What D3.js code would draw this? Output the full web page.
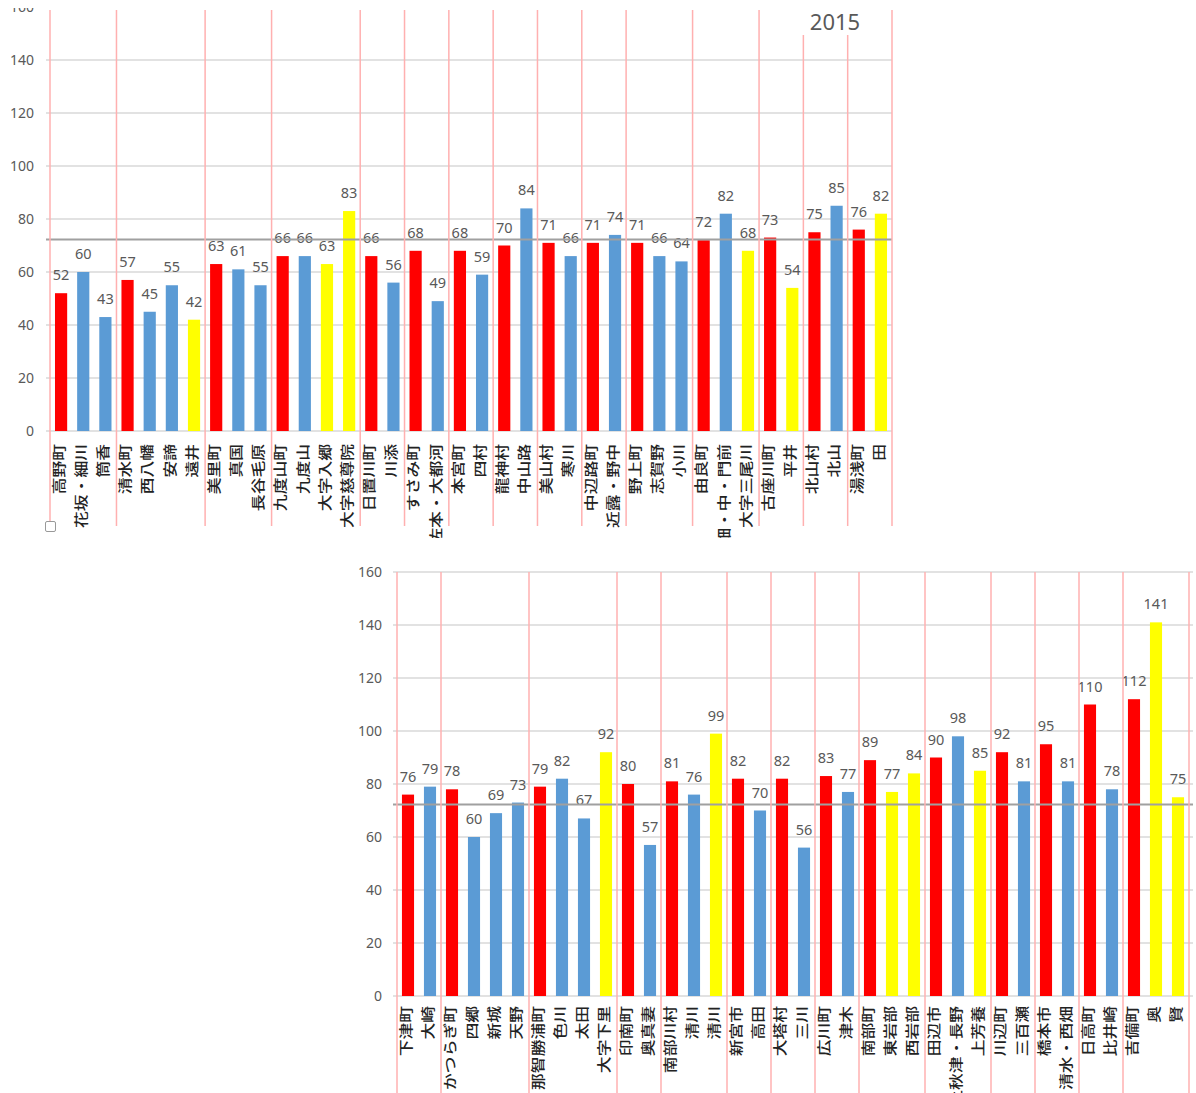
<!DOCTYPE html>
<html>
<head>
<meta charset="utf-8">
<script src="https://cdn.jsdelivr.net/npm/d3@7"></script>
<style>
  body { margin: 0; background: #fff; }
  text { font-family: "Noto Sans", "Noto Sans CJK JP", sans-serif; }
</style>
</head>
<body>
<div id="chart"></div>
<script>
// ---- data: top chart (2015) ----
var topNames = ["高野町", "花坂・細川", "筒香", "清水町", "西八幡", "安諦", "遠井", "美里町", "真国", "長谷毛原",
  "九度山町", "九度山", "大字入郷", "大字慈尊院", "日置川町", "川添", "すさみ町", "佐本・大都河", "本宮町", "四村",
  "龍神村", "中山路", "美山村", "寒川", "中辺路町", "近露・野中", "野上町", "志賀野", "小川", "由良町",
  "畑・中・門前", "大字三尾川", "古座川町", "平井", "北山村", "北山", "湯浅町", "田"];
var topValues = [52, 60, 43, 57, 45, 55, 42, 63, 61, 55,
  66, 66, 63, 83, 66, 56, 68, 49, 68, 59,
  70, 84, 71, 66, 71, 74, 71, 66, 64, 72,
  82, 68, 73, 54, 75, 85, 76, 82];
// r = town, b = district, y = hamlet
var topColors = ["r", "b", "b", "r", "b", "b", "y", "r", "b", "b",
  "r", "b", "y", "y", "r", "b", "r", "b", "r", "b",
  "r", "b", "r", "b", "r", "b", "r", "b", "b", "r",
  "b", "y", "r", "y", "r", "b", "r", "y"];
var topGroups = [3, 4, 3, 4, 2, 2, 2, 2, 2, 2, 3, 3, 2, 2, 2];

// ---- data: bottom chart ----
var botNames = ["下津町", "大崎", "かつらぎ町", "四郷", "新城", "天野", "那智勝浦町", "色川", "太田", "大字下里",
  "印南町", "奥真妻", "南部川村", "清川", "清川", "新宮市", "高田", "大塔村", "三川", "広川町",
  "津木", "南部町", "東岩部", "西岩部", "田辺市", "上秋津・長野", "上芳養", "川辺町", "三百瀬", "橋本市",
  "清水・西畑", "日高町", "比井崎", "吉備町", "奥", "賢"];
var botValues = [76, 79, 78, 60, 69, 73, 79, 82, 67, 92,
  80, 57, 81, 76, 99, 82, 70, 82, 56, 83,
  77, 89, 77, 84, 90, 98, 85, 92, 81, 95,
  81, 110, 78, 112, 141, 75];
var botColors = ["r", "b", "r", "b", "b", "b", "r", "b", "b", "y",
  "r", "b", "r", "b", "y", "r", "b", "r", "b", "r",
  "b", "r", "y", "y", "r", "b", "y", "r", "b", "r",
  "b", "r", "b", "r", "y", "y"];
var botGroups = [2, 4, 4, 2, 3, 2, 2, 2, 3, 3, 2, 2, 2, 3];

var yTicks = [0, 20, 40, 60, 80, 100, 120, 140, 160];
var average = 72.3;
var title = "2015";

var colorMap = { r: "#ff0000", b: "#5b9bd5", y: "#ffff00" };

var svg = d3.select("#chart")
  .append("svg")
  .attr("width", 1196)
  .attr("height", 1093)
  .style("background", "#fff");

var drawChart = function(o) {
  var g = svg.append("g");
  if (o.clip) {
    svg.append("clipPath").attr("id", o.id + "-clip")
      .append("rect")
      .attr("x", o.clip[0]).attr("y", o.clip[1])
      .attr("width", o.clip[2]).attr("height", o.clip[3]);
    g.attr("clip-path", "url(#" + o.id + "-clip)");
  }

  var idx = d3.range(o.names.length);
  var x = d3.scaleBand()
    .domain(idx)
    .range([o.left, o.right])
    .paddingInner(0.45)
    .paddingOuter(0.225);
  var y = d3.scaleLinear()
    .domain([0, 160])
    .range(o.yRange);

  // gridlines + tick labels
  g.selectAll(".grid")
    .data(yTicks)
    .enter()
    .append("line")
    .attr("x1", o.left - 4)
    .attr("x2", o.gridRight)
    .attr("y1", d => y(d))
    .attr("y2", d => y(d))
    .attr("stroke", "#d9d9d9")
    .attr("stroke-width", 1.5);

  g.selectAll(".tick")
    .data(yTicks)
    .enter()
    .append("text")
    .attr("x", o.tickX)
    .attr("y", d => y(d))
    .attr("dy", "0.35em")
    .attr("text-anchor", "end")
    .style("font-size", "14px")
    .attr("fill", "#595959")
    .text(d => d);

  // bars
  g.selectAll(".bar")
    .data(idx)
    .enter()
    .append("rect")
    .attr("x", i => x(i))
    .attr("y", i => y(o.values[i]))
    .attr("width", x.bandwidth())
    .attr("height", i => y(0) - y(o.values[i]))
    .attr("fill", i => colorMap[o.colors[i]]);

  // value labels
  g.selectAll(".val")
    .data(idx)
    .enter()
    .append("text")
    .attr("x", i => x(i) + x.bandwidth() / 2)
    .attr("y", i => y(o.values[i]) - 13)
    .attr("text-anchor", "middle")
    .style("font-size", "14.5px")
    .attr("fill", "#595959")
    .text(i => o.values[i]);

  // category labels, rotated; stretched along the text, squeezed across it
  g.selectAll(".cat")
    .data(idx)
    .enter()
    .append("text")
    .attr("transform", i => "translate(" + (x(i) + x.bandwidth() / 2 - 2) + "," + o.labelY + ") rotate(-90) scale(1.12,0.88)")
    .attr("dy", "0.36em")
    .attr("text-anchor", "end")
    .style("font-family", "'Noto Sans CJK JP', sans-serif")
    .style("font-size", "15px")
    .style("font-weight", 500)
    .attr("fill", "#222")
    .text(i => o.names[i]);

  // average line
  g.append("line")
    .attr("x1", o.left - 4)
    .attr("x2", o.gridRight)
    .attr("y1", y(average))
    .attr("y2", y(average))
    .attr("stroke", "#a0a0a0")
    .attr("stroke-width", 2);

  // group separators
  var bounds = [0];
  o.groups.forEach(function(n) { bounds.push(bounds[bounds.length - 1] + n); });
  var step = x.step();
  g.selectAll(".sep")
    .data(bounds)
    .enter()
    .append("line")
    .attr("x1", k => o.left + k * step)
    .attr("x2", k => o.left + k * step)
    .attr("y1", o.sepTop)
    .attr("y2", o.sepBottom)
    .attr("stroke", "#ffb0b0")
    .attr("stroke-width", 1.5);

  return g;
};

var topChart = drawChart({
  id: "top", names: topNames, values: topValues, colors: topColors, groups: topGroups,
  left: 50, right: 892, yRange: [431, 7], gridRight: 892, tickX: 34,
  labelY: 444, sepTop: 10, sepBottom: 526, clip: [0, 8, 1196, 530]
});

// chart title with its white box
topChart.append("rect")
  .attr("x", 799).attr("y", 9)
  .attr("width", 52).attr("height", 26)
  .attr("fill", "#fff");
topChart.append("text")
  .attr("x", 835).attr("y", 30)
  .attr("text-anchor", "middle")
  .style("font-size", "22px")
  .attr("fill", "#595959")
  .text(title);

// little checkbox under the top axis
svg.append("rect")
  .attr("x", 45.5).attr("y", 521.5)
  .attr("width", 10).attr("height", 10)
  .attr("rx", 1.5)
  .attr("fill", "#fff")
  .attr("stroke", "#999")
  .attr("stroke-width", 1);

drawChart({
  id: "bot", names: botNames, values: botValues, colors: botColors, groups: botGroups,
  left: 397, right: 1189, yRange: [996, 572], gridRight: 1193, tickX: 382,
  labelY: 1006, sepTop: 572, sepBottom: 1093
});
</script>
</body>
</html>
